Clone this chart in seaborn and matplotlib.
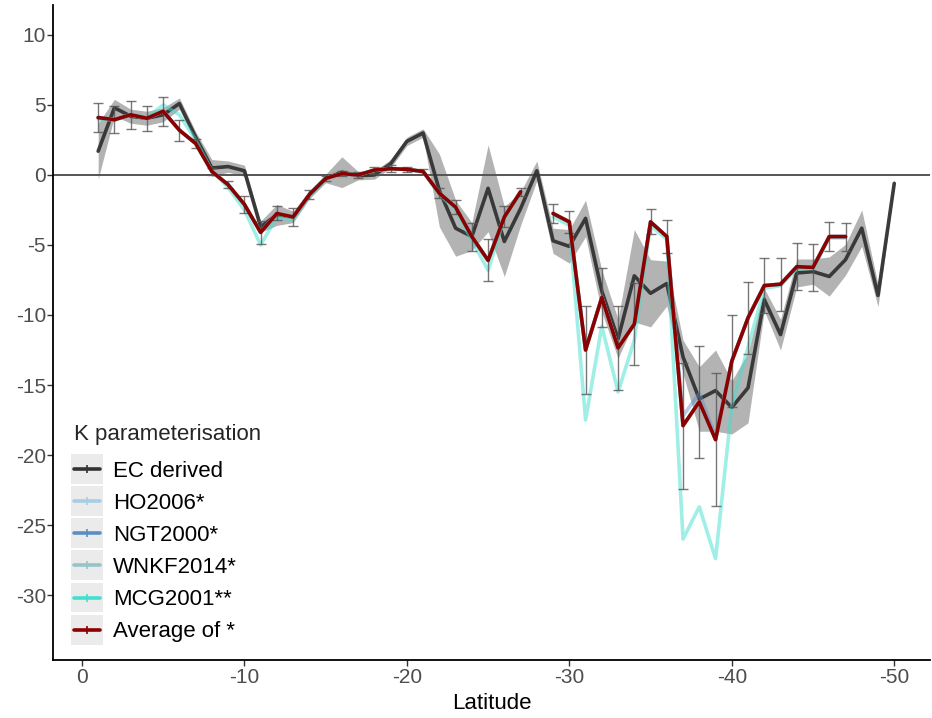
import numpy as np
import pandas as pd
import matplotlib
matplotlib.use("Agg")
import matplotlib.pyplot as plt
import seaborn as sns
from matplotlib.legend_handler import HandlerLine2D
from matplotlib.patches import Rectangle
from matplotlib.lines import Line2D

nan = np.nan

# ---------------- data ----------------
latitude = list(range(-1, -51, -1))

ec_derived = [1.7, 4.8, 4.2, 4.05, 4.3, 5.1, 2.7, 0.5, 0.6, 0.3,
              -3.7, -2.85, -3.0, -1.4, -0.25, 0.2, -0.05, 0.0, 0.8, 2.4,
              3.0, -1.1, -3.8, -4.4, -0.95, -4.75, -2.4, 0.3, -4.7, -5.1,
              -3.1, -8.3, -11.7, -7.2, -8.45, -7.75, -13.0, -16.0, -15.4, -16.6,
              -15.2, -8.9, -11.4, -7.0, -6.9, -7.25, -6.05, -3.8, -8.6, -0.6]

ec_sd = [2.0, 0.6, 0.5, 0.5, 0.5, 0.4, 0.4, 0.6, 0.4, 0.4,
         0.4, 0.75, 0.4, 0.3, 0.3, 1.1, 0.3, 0.3, 0.3, 0.3,
         0.3, 2.6, 2.0, 1.0, 3.1, 2.5, 1.2, 0.7, 0.9, 1.2,
         1.3, 1.5, 1.4, 3.3, 2.4, 1.6, 1.2, 2.3, 2.9, 1.9,
         2.5, 0.8, 1.1, 1.0, 0.9, 1.4, 1.1, 1.3, 0.8, 0.3]

average = [4.1, 3.95, 4.3, 4.05, 4.55, 3.2, 2.25, 0.25, -0.7, -2.1,
           -4.1, -2.75, -3.0, -1.4, -0.25, 0.1, 0.0, 0.35, 0.45, 0.4,
           0.25, -1.3, -2.3, -4.4, -6.1, -3.0, -1.2, nan, -2.75, -3.35,
           -12.5, -8.75, -12.35, -10.65, -3.35, -4.4, -17.9, -16.2, -18.9, -13.3,
           -10.2, -7.9, -7.8, -6.55, -6.6, -4.4, -4.4, nan, nan, nan]

average_err = [1.05, 0.95, 1.0, 0.9, 1.05, 0.75, 0.35, 0.25, 0.25, 0.6,
               0.8, 0.5, 0.65, 0.3, 0.2, 0.2, 0.2, 0.25, 0.25, 0.2,
               0.2, 0.35, 0.5, 1.0, 1.5, 0.75, 0.3, nan, 0.7, 0.8,
               3.15, 2.1, 3.0, 2.9, 0.9, 1.2, 4.5, 4.0, 4.75, 3.3,
               2.55, 1.95, 1.9, 1.7, 1.7, 1.05, 1.0, nan, nan, nan]

mcg2001 = [4.0, 3.9, 4.3, 4.1, 5.0, 4.3, 2.5, 0.3, -0.9, -2.5,
           -5.0, -3.0, -3.2, -1.5, -0.3, 0.1, 0.0, 0.35, 0.45, 0.4,
           0.25, -1.4, -2.5, -4.7, -6.8, -3.1, -1.2, nan, -3.0, -3.6,
           -17.5, -10.8, -15.5, -11.8, -3.6, -4.6, -26.0, -23.7, -27.4, -16.5,
           -12.3, -8.1, -7.9, -6.7, -6.7, -4.5, -4.5, nan, nan, nan]

ho2006 = [4.1, 3.95, 4.3, 4.05, 4.55, 3.2, 2.25, 0.25, -0.7, -2.1,
          -4.1, -2.75, -3.0, -1.4, -0.25, 0.1, 0.0, 0.35, 0.45, 0.4,
          0.25, -1.3, -2.3, -4.4, -6.1, -3.0, -1.2, nan, -2.75, -3.35,
          -12.5, -8.75, -12.35, -10.65, -3.35, -4.4, -17.9, -16.2, -18.9, -13.3,
          -10.2, -7.9, -7.8, -6.55, -6.6, -4.4, -4.4, nan, nan, nan]

ngt2000 = [4.1, 3.95, 4.3, 4.05, 4.55, 3.2, 2.25, 0.25, -0.7, -2.1,
           -4.1, -2.75, -3.0, -1.4, -0.25, 0.1, 0.0, 0.35, 0.45, 0.4,
           0.25, -1.3, -2.3, -4.4, -6.1, -3.0, -1.2, nan, -2.75, -3.35,
           -12.5, -8.75, -12.35, -10.65, -3.35, -4.4, -17.2, -15.6, -18.7, -13.3,
           -10.2, -7.9, -7.8, -6.55, -6.6, -4.4, -4.4, nan, nan, nan]

wnkf2014 = [4.1, 3.95, 4.3, 4.05, 4.55, 3.2, 2.25, 0.25, -0.7, -2.1,
            -4.1, -2.75, -3.0, -1.4, -0.25, 0.1, 0.0, 0.35, 0.45, 0.4,
            0.25, -1.3, -2.3, -4.4, -6.1, -3.0, -1.2, nan, -2.75, -3.35,
            -12.5, -8.75, -12.35, -10.65, -3.35, -4.4, -17.9, -16.2, -18.9, -13.3,
            -10.2, -7.9, -7.8, -6.55, -6.6, -4.4, -4.4, nan, nan, nan]

series_names = ["EC derived", "HO2006*", "NGT2000*", "WNKF2014*", "MCG2001**", "Average of *"]
series_values = [ec_derived, ho2006, ngt2000, wnkf2014, mcg2001, average]
series_colors = ["#333333", "#a6cee3", "#5b8fc4", "#96c4c8", "#40e0d0", "#8b0000"]
series_alpha = [0.95, 0.9, 0.45, 0.9, 0.5, 1.0]

x_ticks = [0, -10, -20, -30, -40, -50]
y_ticks = [10, 5, 0, -5, -10, -15, -20, -25, -30]

# ---------------- figure ----------------
sns.set_theme(style="white")
plt.rcParams["font.family"] = ["Liberation Sans", "DejaVu Sans"]
plt.rcParams["axes.unicode_minus"] = False

fig = plt.figure(figsize=(9.32, 7.18), dpi=100)
ax = fig.add_axes([53 / 932, 58 / 718, 877 / 932, 655 / 718])

lat_arr = np.array(latitude, dtype=float)
ec_arr = np.array(ec_derived)
sd_arr = np.array(ec_sd)
ax.fill_between(lat_arr, ec_arr - sd_arr, ec_arr + sd_arr,
                color="#b3b3b3", linewidth=0, zorder=1)

ax.axhline(0, color="#555555", linewidth=1.4, zorder=1.5)

frames = []
for name, vals in zip(series_names, series_values):
    v = pd.Series(vals, dtype=float)
    seg = v.isna().cumsum()
    frames.append(pd.DataFrame({"lat": latitude, "value": v, "series": name, "seg": seg}))
df = pd.concat(frames, ignore_index=True).dropna(subset=["value"])

for i, (name, col, a) in enumerate(zip(series_names, series_colors, series_alpha)):
    sub = df[df["series"] == name]
    sns.lineplot(data=sub, x="lat", y="value", units="seg", estimator=None,
                 color=col, alpha=a, linewidth=2.6, sort=False, ax=ax,
                 legend=False, zorder=2 + i * 0.1 if name != "Average of *" else 4)

err_df = pd.DataFrame({"lat": latitude, "avg": average, "err": average_err}).dropna()
ax.errorbar(err_df["lat"], err_df["avg"], yerr=err_df["err"], fmt="none",
            ecolor="#555555", elinewidth=1.0, capsize=3.5, capthick=1.0,
            alpha=0.8, zorder=3)

ax.set_xlim(1.78, -52.2)
ax.set_ylim(-34.64, 12.14)
ax.set_xticks(x_ticks)
ax.set_xticklabels([str(t) for t in x_ticks])
ax.set_yticks(y_ticks)
ax.set_yticklabels([str(t) for t in y_ticks])
ax.set_xlabel("Latitude", fontsize=16, color="black", labelpad=4)
ax.set_ylabel("")

for s in ["top", "right"]:
    ax.spines[s].set_visible(False)
for s in ["left", "bottom"]:
    ax.spines[s].set_color("black")
    ax.spines[s].set_linewidth(1.3)
ax.tick_params(axis="both", which="major", direction="out", length=4, width=1,
               color="#333333", labelcolor="#4d4d4d", labelsize=15, pad=2,
               left=True, bottom=True)
ax.tick_params(axis="y", pad=1)


class KeyHandler(HandlerLine2D):
    def create_artists(self, legend, orig_handle, xdescent, ydescent,
                       width, height, fontsize, trans):
        arts = super().create_artists(legend, orig_handle, xdescent, ydescent,
                                      width, height, fontsize, trans)
        h = 21.5
        pad = 2.5
        rect = Rectangle((-xdescent - pad, -ydescent + height / 2 - h / 2),
                         width + 2 * pad, h, facecolor="#ebebeb",
                         edgecolor="none", transform=trans)
        return [rect] + list(arts)


handles = [Line2D([0], [0], color=c, linewidth=2.6, marker="|", markersize=6,
                  markeredgewidth=1.2) for c in series_colors]
leg = ax.legend(handles, series_names, title="K parameterisation",
                loc="upper left", bbox_to_anchor=(42 / 932, 1 - 391.5 / 718),
                bbox_transform=fig.transFigure, frameon=False,
                fontsize=16, title_fontsize=16, alignment="left",
                handlelength=1.15, handleheight=0.7, handletextpad=0.6,
                labelspacing=0.5, borderpad=1.45, borderaxespad=0,
                numpoints=1, handler_map={Line2D: KeyHandler(numpoints=1)})
leg._legend_box.sep = 11.6
for t in leg.get_texts():
    t.set_color("black")

fig.savefig("out.png", dpi=100)
